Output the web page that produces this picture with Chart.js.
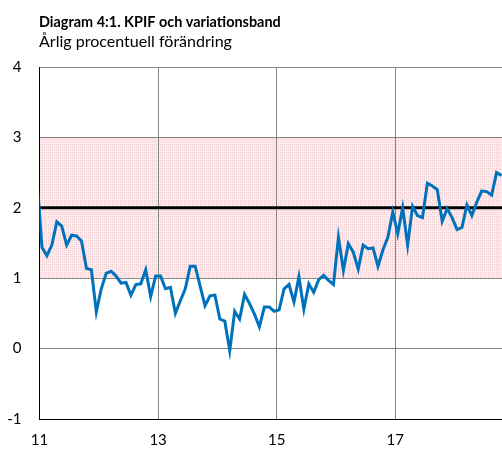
<!DOCTYPE html>
<html><head><meta charset="utf-8">
<script src="https://cdn.jsdelivr.net/npm/chart.js@4.4.0/dist/chart.umd.min.js"></script>
<style>html,body{margin:0;padding:0;background:#fff}#wrap{width:502px;height:450px;position:relative}</style>
</head><body><div id="wrap"><canvas id="c" width="502" height="450"></canvas></div>
<script>
// ---- text ----
const titleText = "Diagram 4:1. KPIF och variationsband";
const subtitleText = "Årlig procentuell förändring";

// ---- categories: monthly observations, first one is Dec 2010 ----
const firstYear = 2010, firstMonth = 12;

// ---- series: KPIF, annual percentage change ----
const kpif = [
  2.40,
  1.44, 1.32, 1.47, 1.80, 1.74, 1.47, 1.61, 1.60, 1.53, 1.14, 1.12, 0.52,
  0.85, 1.07, 1.10, 1.03, 0.93, 0.94, 0.76, 0.91, 0.92, 1.12, 0.74, 1.03,
  1.03, 0.85, 0.87, 0.50, 0.68, 0.85, 1.17, 1.17, 0.89, 0.61, 0.75, 0.76,
  0.42, 0.39, -0.03, 0.53, 0.42, 0.77, 0.64, 0.49, 0.31, 0.59, 0.59, 0.53,
  0.55, 0.85, 0.91, 0.66, 1.02, 0.56, 0.92, 0.80, 0.98, 1.04, 0.97, 0.91,
  1.58, 1.11, 1.49, 1.37, 1.13, 1.47, 1.42, 1.43, 1.17, 1.40, 1.58, 1.94,
  1.63, 2.00, 1.47, 2.02, 1.89, 1.86, 2.35, 2.31, 2.26, 1.81, 1.99, 1.86,
  1.69, 1.72, 2.04, 1.89, 2.08, 2.24, 2.23, 2.18, 2.50, 2.46
];
const targetLevel = [2, 2];
const bandLow = 1, bandHigh = 3;

// ---- axes ----
const xMin = 11, xMax = 18.8;
const xTickValues = [11, 13, 15, 17];
const xTickLabels = ["11", "13", "15", "17"];
const yMin = -1, yMax = 4;

// build x positions (two-digit year, mid-month)
function monthX(i) {
  const mIndex = (firstYear - 2000) * 12 + (firstMonth - 1) + i;
  return (mIndex + 0.5) / 12;
}
const kpifPoints = kpif.map((v, i) => ({ x: monthX(i), y: v }));
const targetPoints = [{ x: xMin, y: targetLevel[0] }, { x: xMax, y: targetLevel[1] }];

// band pattern
const pc = document.createElement('canvas');
pc.width = 4; pc.height = 4;
const pctx = pc.getContext('2d');
pctx.fillStyle = '#fcecee'; pctx.fillRect(0, 0, 4, 4);
pctx.fillStyle = '#efc3c8';
pctx.fillRect(0, 0, 1, 1); pctx.fillRect(2, 2, 1, 1);
pctx.fillStyle = '#f6d9dc';
pctx.fillRect(2, 0, 1, 1); pctx.fillRect(0, 2, 1, 1);

const bandPlugin = {
  id: 'band',
  beforeDraw(chart) {
    const { ctx, chartArea, scales } = chart;
    const yTop = scales.y.getPixelForValue(bandHigh);
    const yBot = scales.y.getPixelForValue(bandLow);
    ctx.save();
    ctx.fillStyle = ctx.createPattern(pc, 'repeat');
    ctx.fillRect(chartArea.left, yTop, chartArea.right - chartArea.left, yBot - yTop);
    ctx.restore();
  }
};

function fitFont(ctx, text, weight, family, targetW) {
  let size = 20;
  ctx.font = weight + ' ' + size + 'px ' + family;
  const w = ctx.measureText(text).width;
  size = size * targetW / w;
  return weight + ' ' + size.toFixed(2) + 'px ' + family;
}

const titlePlugin = {
  id: 'titles',
  afterDraw(chart) {
    const ctx = chart.ctx;
    ctx.save();
    ctx.fillStyle = '#000';
    ctx.textBaseline = 'alphabetic';
    ctx.textAlign = 'left';
    ctx.font = fitFont(ctx, titleText, 'bold', 'Lato', 242);
    ctx.fillText(titleText, 39, 27);
    ctx.font = fitFont(ctx, subtitleText, 'normal', 'Lato', 193);
    ctx.fillText(subtitleText, 39, 47);
    ctx.restore();
  }
};

new Chart(document.getElementById('c'), {
  type: 'line',
  data: {
    datasets: [
      { data: kpifPoints, borderColor: '#0072bb', borderWidth: 3, pointRadius: 0, tension: 0, clip: 0, order: 0 },
      { data: targetPoints, borderColor: '#000', borderWidth: 3, pointRadius: 0, tension: 0, order: 1 }
    ]
  },
  options: {
    responsive: false,
    devicePixelRatio: 1,
    animation: false,
    layout: { padding: { top: 67, left: 0, right: 0, bottom: 0 } },
    plugins: { legend: { display: false }, tooltip: { enabled: false }, title: { display: false } },
    scales: {
      x: {
        type: 'linear', min: xMin, max: xMax,
        afterBuildTicks(s) { s.ticks = xTickValues.map(v => ({ value: v })); },
        afterFit(s) { s.height = 31; },
        ticks: {
          autoSkip: false, maxRotation: 0, padding: 12, color: '#000',
          font: { family: 'Lato', size: 15 },
          callback(v) { const i = xTickValues.indexOf(v); return i >= 0 ? xTickLabels[i] : ''; }
        },
        grid: {
          drawTicks: false,
          color: ctx => (ctx.tick && ctx.tick.value === xMin) ? 'rgba(0,0,0,0)' : '#858585',
          lineWidth: 1
        },
        border: { display: true, color: '#000', width: 1 }
      },
      y: {
        min: yMin, max: yMax,
        afterFit(s) { s.width = 39.5; },
        ticks: { stepSize: 1, padding: 18, color: '#000', font: { family: 'Lato', size: 15 } },
        grid: {
          drawTicks: false,
          color: ctx => (ctx.tick && ctx.tick.value === yMin) ? 'rgba(0,0,0,0)' : '#858585',
          lineWidth: 1
        },
        border: { display: true, color: '#000', width: 1 }
      }
    }
  },
  plugins: [bandPlugin, titlePlugin]
});
</script>
</body></html>
